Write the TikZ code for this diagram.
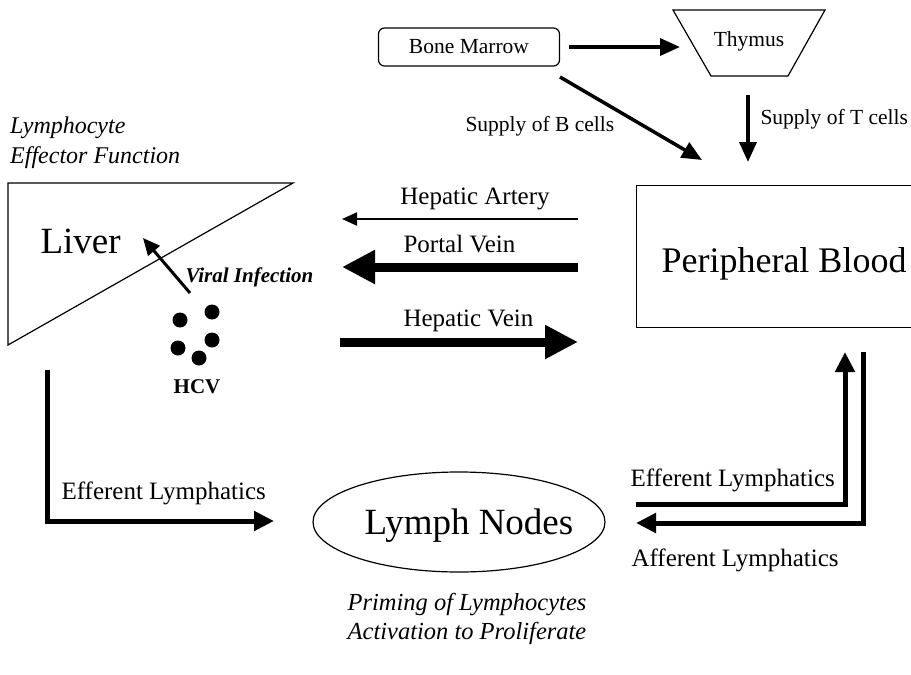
\documentclass[tikz,border=0pt]{standalone}
\usepackage{fontspec}
\setmainfont{Liberation Serif}
\usetikzlibrary{arrows.meta,shapes.geometric}

\begin{document}
\begin{tikzpicture}[x=1pt,y=-1pt,
    lbl/.style={font=\fontsize{21.5}{26}\selectfont},
    mlbl/.style={font=\fontsize{25}{30}\selectfont},
    biglbl/.style={font=\fontsize{36}{44}\selectfont},
    organ/.style={draw,line width=1.2pt},
    thinarr/.style={line width=2pt,-{Triangle[length=15pt,width=13pt]}},
    medarr/.style={line width=3.5pt,-{Triangle[length=20pt,width=17pt]}},
    lymarr/.style={line width=5pt,-{Triangle[length=20pt,width=19pt]}},
    fatarr/.style={line width=9pt,-{Triangle[length=33pt,width=32pt]}}]
  \clip (0,0) rectangle (911,675);

  % top: bone marrow and thymus
  \node[organ,rounded corners=6pt,minimum width=181pt,minimum height=38pt,lbl] (bm) at (469,47) {Bone Marrow};
  \draw[organ] (673,10) -- (825,10) -- (788,76) -- (711,76) -- cycle;
  \node[lbl,anchor=base] (thy) at (749,46) {Thymus};
  \coordinate (bm-out) at (569,47);
  \coordinate (thy-in) at (680,47);
  \coordinate (bm-down) at (560,77);
  \coordinate (thy-down) at (748,95);
  \draw[medarr] (bm-out) -- (thy-in);

  % peripheral blood
  \node[organ,anchor=north west,minimum width=330pt,minimum height=142pt] (pb) at (636,185) {};
  \node[biglbl,anchor=base west] (pbtxt) at (658,272) {Peripheral Blood};
  \coordinate (pb-b) at (702,160);
  \coordinate (pb-t) at (748,162);
  \draw[medarr] (bm-down) -- (pb-b);
  \draw[medarr] (thy-down) -- (pb-t);
  \node[lbl,anchor=base west] (bsup) at (462,131) {Supply of B cells};
  \node[lbl,anchor=base west] (tsup) at (757,124) {Supply of T cells};

  % liver and virus
  \node[mlbl,anchor=north west,align=left,inner sep=0pt,font=\fontsize{24}{30}\selectfont\itshape] (eff) at (10,117) {Lymphocyte\\Effector Function};
  \draw[organ] (8,183) coordinate (lv-a) -- (293,183) -- (8,345) -- cycle;
  \node[font=\fontsize{37}{44}\selectfont,anchor=base west] (liver) at (37,253) {Liver};
  \coordinate (vir-s) at (190,293);
  \coordinate (vir-e) at (143,238);
  \draw[line width=3pt,-{Triangle[length=17pt,width=15pt]}] (vir-s) -- (vir-e);
  \node[lbl,anchor=base west,font=\fontsize{21}{25}\selectfont\bfseries\itshape] (vir) at (182,282) {Viral Infection};
  \foreach \px/\py in {180/320,212/312,212/340,178/348,199/358}
    \fill (\px,\py) circle (7.5pt);
  \node[lbl,anchor=base,font=\fontsize{21}{25}\selectfont\bfseries] (hcv) at (197,393) {HCV};

  % blood vessels
  \coordinate (ha-s) at (578,219);
  \coordinate (ha-e) at (342,219);
  \coordinate (pv-s) at (578,267);
  \coordinate (pv-e) at (342,267);
  \coordinate (hv-s) at (340,342);
  \coordinate (hv-e) at (578,342);
  \draw[thinarr] (ha-s) -- (ha-e);
  \draw[fatarr] (pv-s) -- (pv-e);
  \draw[fatarr] (hv-s) -- (hv-e);
  \node[mlbl,anchor=base] (ha) at (475,204) {Hepatic Artery};
  \node[mlbl,anchor=base west] (pv) at (400,252) {Portal Vein};
  \node[mlbl,anchor=base west] (hv) at (400,326) {Hepatic Vein};

  % lymph nodes and lymphatics
  \node[draw,line width=1.2pt,ellipse,minimum width=292pt,minimum height=100pt] (ln) at (459,522) {};
  \node[font=\fontsize{37}{44}\selectfont,anchor=base] (lntxt) at (469,534) {Lymph Nodes};
  \coordinate (le-s) at (47,370);
  \coordinate (le-e) at (274,521);
  \draw[lymarr] (le-s) |- (le-e);
  \node[mlbl,anchor=base west] (le) at (58,499) {Efferent Lymphatics};
  \coordinate (re-s) at (636,504);
  \coordinate (re-e) at (845,352);
  \coordinate (ra-s) at (863,352);
  \coordinate (ra-e) at (636,523);
  \draw[lymarr] (re-s) -| (re-e);
  \draw[lymarr] (ra-s) |- (ra-e);
  \node[mlbl,anchor=base west] (re) at (627,486) {Efferent Lymphatics};
  \node[mlbl,anchor=base west] (ra) at (628,566) {Afferent Lymphatics};
  \node[mlbl,anchor=north,align=center,inner sep=0pt,font=\fontsize{24.5}{29}\selectfont\itshape] (prim) at (467,593) {Priming of Lymphocytes\\Activation to Proliferate};
\end{tikzpicture}
\end{document}
